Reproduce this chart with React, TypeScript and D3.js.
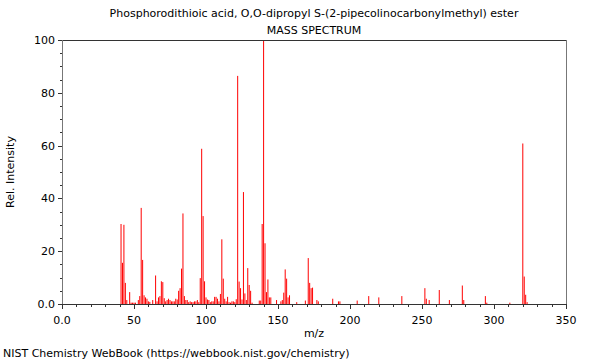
import React from "react";
import * as d3 from "d3";

// peak list
const mzValues = [
  41, 42, 43, 44, 45, 47, 48, 49, 50, 51, 53, 54, 55, 56, 57, 58, 59, 60, 61, 63,
  65, 66, 67, 68, 69, 70, 71, 72, 73, 74, 75, 76, 77, 78, 79, 80, 81, 82, 83, 84,
  85, 86, 87, 88, 89, 90, 91, 92, 93, 94, 95, 96, 97, 98, 99, 100, 101, 102, 103, 104,
  105, 106, 107, 108, 109, 110, 111, 112, 113, 114, 115, 116, 117, 118, 119, 120, 121, 122, 123, 124,
  125, 126, 127, 128, 129, 130, 131, 132, 137, 138, 139, 140, 141, 142, 143, 144, 145, 149, 152, 153,
  154, 155, 156, 157, 158, 163, 169, 171, 172, 173, 174, 177, 178, 188, 192, 193, 205, 213, 220, 236,
  252, 253, 255, 262, 269, 278, 279, 294, 295, 311, 320, 321, 322, 323,
];
const intensities = [
  30.3, 15.6, 30, 8, 1.5, 4.5, 0.5, 0.5, 0.5, 0.5, 1.5, 3, 36.4, 16.7, 3.3, 2.5, 2, 1, 0.8, 1.5,
  10.8, 1, 2.5, 3, 8.6, 8.3, 2.2, 1, 1.5, 2, 1.5, 1, 1, 1, 2, 1.7, 5, 6, 13.4, 34.3,
  3, 1.5, 1.5, 0.7, 1, 0.7, 0.7, 1, 1, 1.5, 0.7, 9.8, 58.8, 33.3, 8.6, 2.5, 1.7, 1.5, 0.7, 1,
  1, 2.7, 2.7, 2, 1, 3.8, 24.5, 9.6, 2, 1, 2.7, 0.7, 0.5, 1, 1, 0.7, 1.8, 86.4, 8.5, 6,
  1.7, 42.4, 4, 1.5, 13.6, 7.2, 5, 0.5, 1.3, 1.3, 30.3, 100, 23, 4.5, 9.3, 2.5, 2.5, 1.5, 1, 1.5,
  4.3, 13.1, 9.6, 2.5, 3.3, 0.7, 1.3, 17.4, 8, 6, 6.2, 1.5, 1, 2, 1, 1, 1.3, 3, 2.5, 3,
  6, 2, 1.5, 5.3, 1.5, 7, 1.5, 3, 0.5, 0.5, 60.8, 10.4, 3.5, 0.7,
];

const xMajorTicks = [0, 50, 100, 150, 200, 250, 300, 350];
const yMajorTicks = [0, 20, 40, 60, 80, 100];

const title = "Phosphorodithioic acid, O,O-dipropyl S-(2-pipecolinocarbonylmethyl) ester";
const subtitle = "MASS SPECTRUM";
const xLabel = "m/z";
const yLabel = "Rel. Intensity";
const footer = "NIST Chemistry WebBook (https://webbook.nist.gov/chemistry)";

const W = 600;
const H = 360;
const left = 62, right = 566, top = 40, bottom = 304;
const font = "DejaVu Sans, sans-serif";

export default function App() {
  const x = d3.scaleLinear().domain([0, 350]).range([left, right]);
  const y = d3.scaleLinear().domain([0, 100]).range([bottom, top]);

  const xMinor = d3.range(0, 351, 10).filter((v) => v % 50 !== 0);
  const yMinor = d3.range(0, 101, 5).filter((v) => v % 20 !== 0);

  const peaks = mzValues.map((m, i) => ({ mz: m, v: intensities[i] }));

  return (
    <svg width={W} height={H} style={{ position: "absolute", left: 0, top: 0, background: "white" }}>
      <text x={314} y={17} textAnchor="middle" fontFamily={font} fontSize={11} fill="#000">{title}</text>
      <text x={314} y={34} textAnchor="middle" fontFamily={font} fontSize={11} fill="#000">{subtitle}</text>

      {/* peaks */}
      <g stroke="#ff0000" strokeWidth={1}>
        {peaks.map((p) => (
          <line key={p.mz} x1={x(p.mz)} x2={x(p.mz)} y1={y(0)} y2={y(p.v)} />
        ))}
      </g>

      {/* frame */}
      <line x1={left} x2={right} y1={top + 0.5} y2={top + 0.5} stroke="#333" />
      <line x1={right + 0.5} x2={right + 0.5} y1={top} y2={bottom} stroke="#777" />
      <line x1={left + 0.5} x2={left + 0.5} y1={top} y2={bottom} stroke="#777" />
      <line x1={left} x2={right + 1} y1={bottom + 0.5} y2={bottom + 0.5} stroke="#333" />

      {/* x ticks */}
      <g stroke="#333">
        {xMajorTicks.map((t) => (
          <line key={"xM" + t} x1={Math.round(x(t)) + 0.5} x2={Math.round(x(t)) + 0.5} y1={bottom} y2={bottom + 5} />
        ))}
        {xMinor.map((t) => (
          <line key={"xm" + t} x1={Math.round(x(t)) + 0.5} x2={Math.round(x(t)) + 0.5} y1={bottom} y2={bottom + 3} />
        ))}
      </g>
      {xMajorTicks.map((t) => (
        <text key={"xl" + t} x={x(t)} y={324} textAnchor="middle" fontFamily={font} fontSize={11} fill="#000">
          {t === 0 ? "0.0" : t}
        </text>
      ))}

      {/* y ticks */}
      <g stroke="#333">
        {yMajorTicks.map((t) => (
          <line key={"yM" + t} x1={left - 4} x2={left} y1={Math.round(y(t)) + 0.5} y2={Math.round(y(t)) + 0.5} />
        ))}
        {yMinor.map((t) => (
          <line key={"ym" + t} x1={left - 2} x2={left} y1={Math.round(y(t)) + 0.5} y2={Math.round(y(t)) + 0.5} />
        ))}
      </g>
      {yMajorTicks.map((t) => (
        <text key={"yl" + t} x={55} y={y(t) + 4} textAnchor="end" fontFamily={font} fontSize={11} fill="#000">
          {t === 0 ? "0.0" : t}
        </text>
      ))}

      <text x={314} y={337} textAnchor="middle" fontFamily={font} fontSize={11} fill="#000">{xLabel}</text>
      <text transform={`translate(14,172) rotate(-90)`} textAnchor="middle" fontFamily={font} fontSize={11} fill="#000">{yLabel}</text>
      <text x={3} y={357} fontFamily={font} fontSize={11} fill="#000">{footer}</text>
    </svg>
  );
}
